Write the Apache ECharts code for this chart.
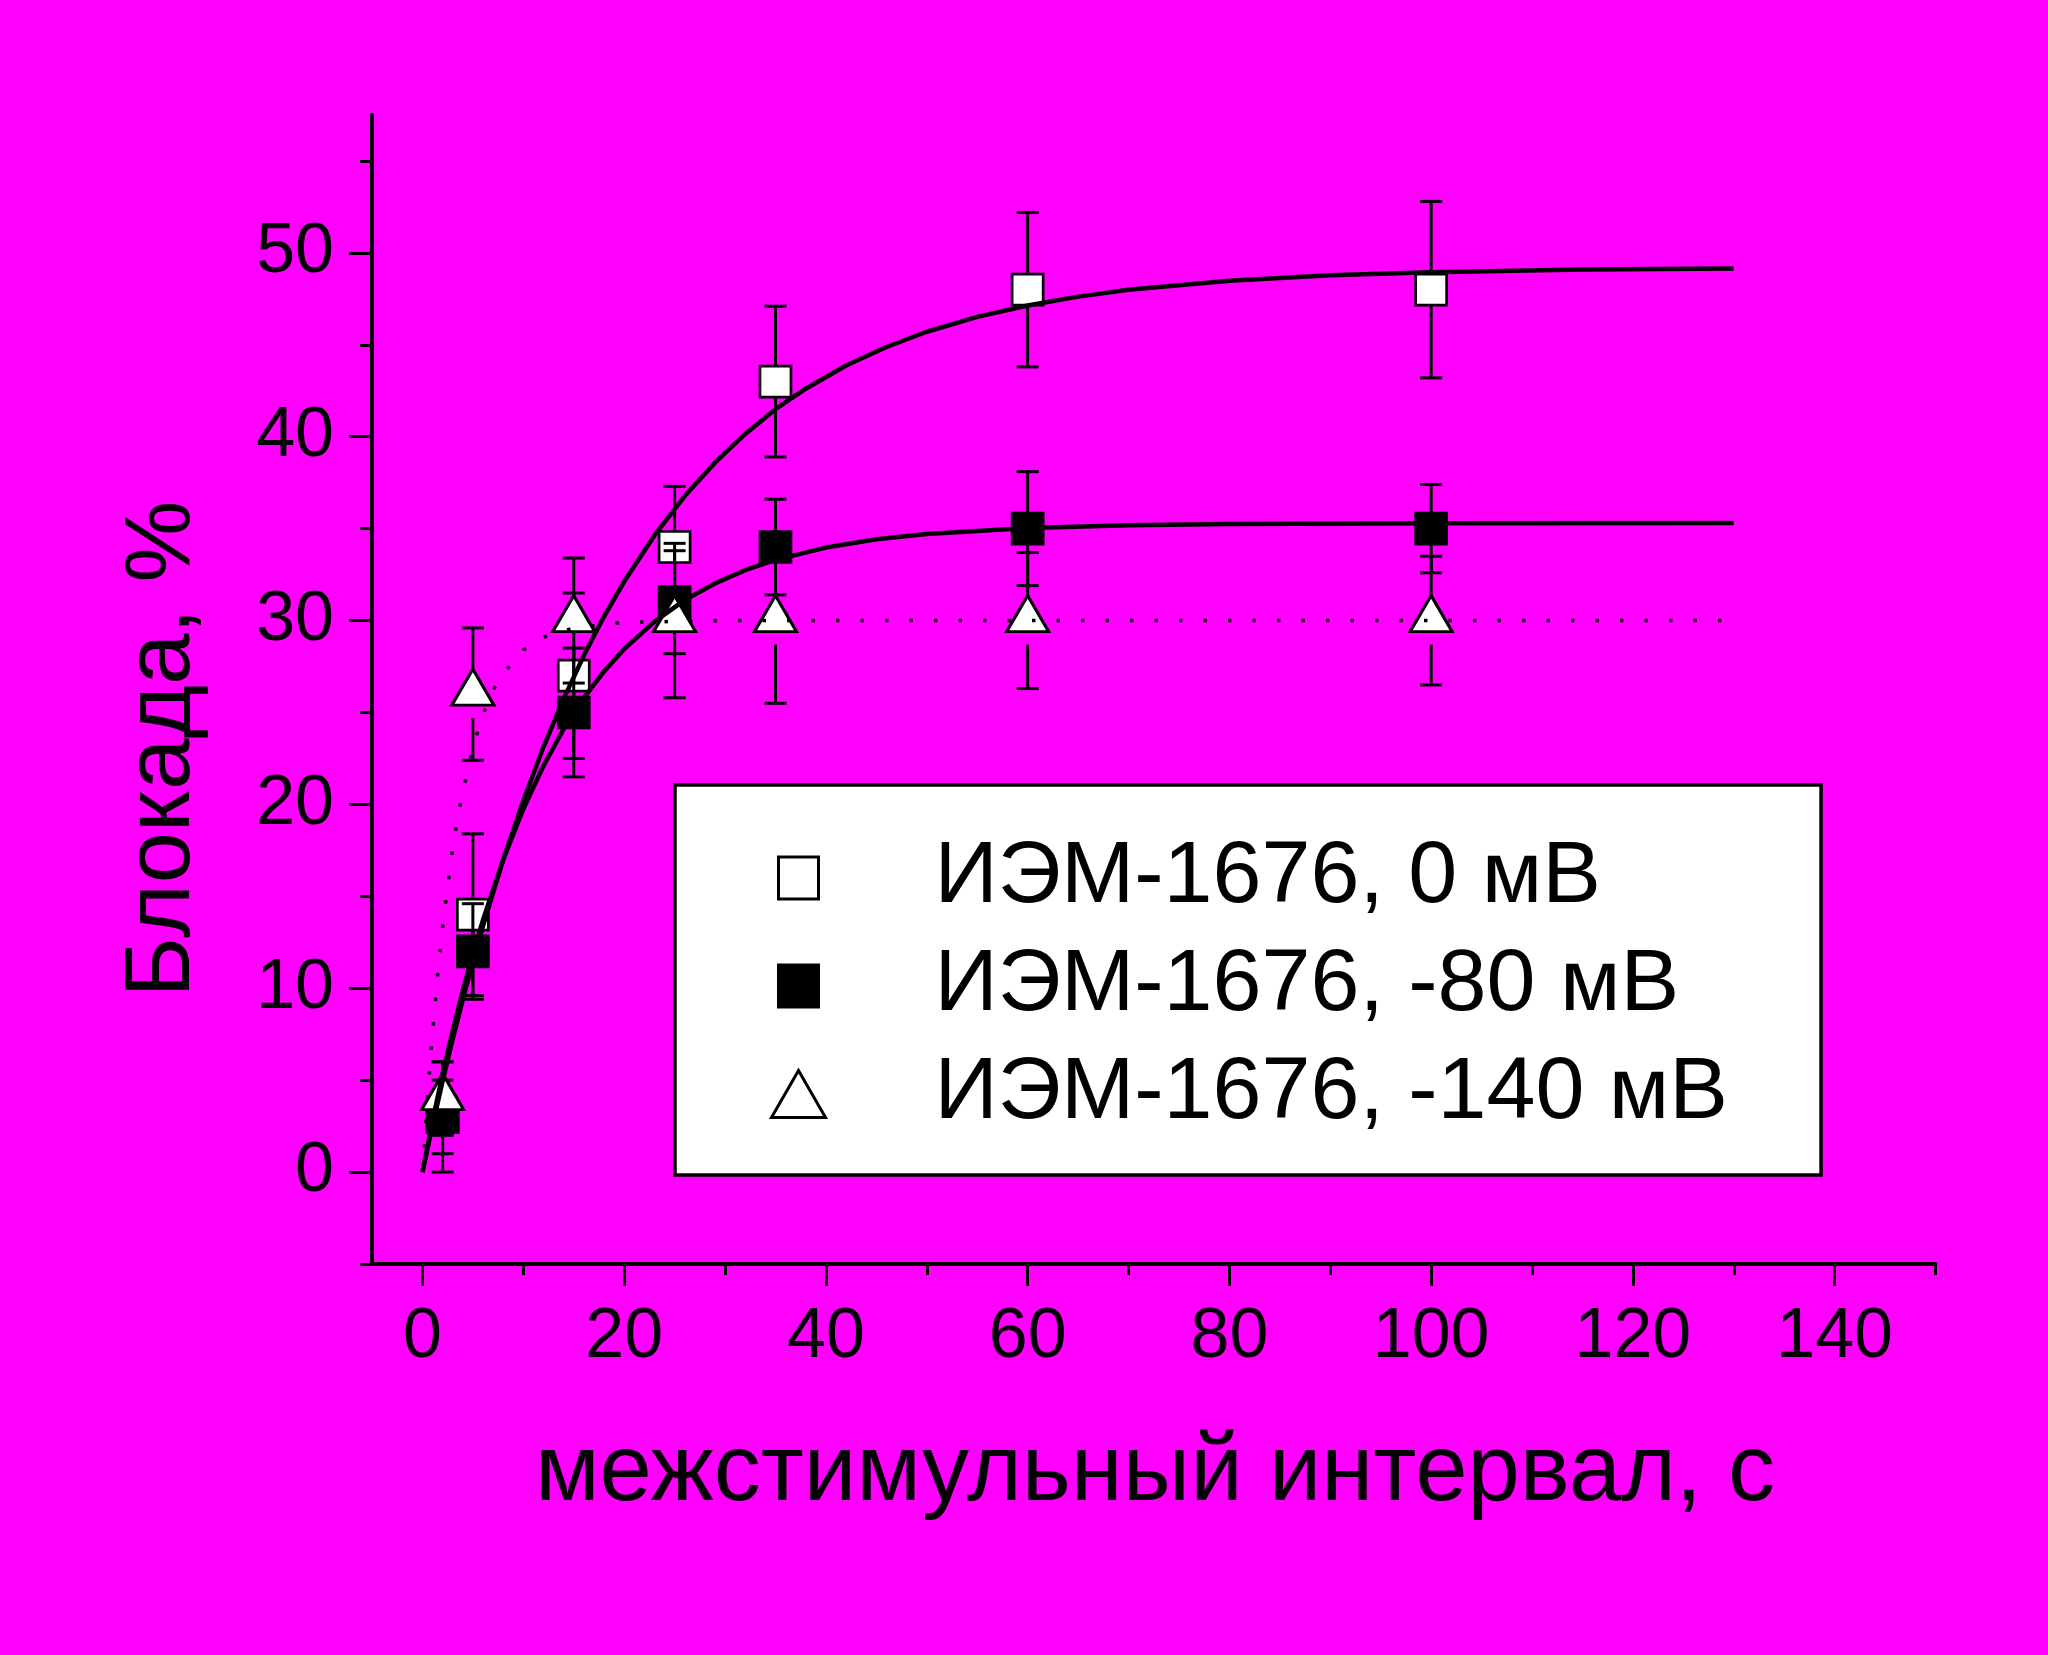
<!DOCTYPE html>
<html>
<head>
<meta charset="utf-8">
<script src="https://cdn.jsdelivr.net/npm/echarts@6/dist/echarts.min.js"></script>
<style>
html,body{margin:0;padding:0;background:#ff00ff;}
#chart{width:2048px;height:1655px;}
</style>
</head>
<body>
<div id="chart"></div>
<script>
// ---- data ----
const seriesNames = ['ИЭМ-1676, 0 мВ', 'ИЭМ-1676, -80 мВ', 'ИЭМ-1676, -140 мВ'];
const xVals = [2, 5, 15, 25, 35, 60, 100];

const y0   = [3, 14, 27, 34, 43, 48, 48];
const lo0  = [0, 9.6, 22.5, 30.7, 38.9, 43.8, 43.2];
const hi0  = [6, 18.4, 31.5, 37.3, 47.1, 52.2, 52.8];

const y80  = [3, 12, 25, 31, 34, 35, 35];
const lo80 = [1, 9.4, 21.5, 28.2, 31.4, 31.9, 32.6];
const hi80 = [5, 14.6, 28.5, 33.8, 36.6, 38.1, 37.4];

const y140  = [4, 26, 30, 30, 30, 30, 30];
const lo140 = [2, 22.4, 26.6, 25.8, 25.5, 26.3, 26.5];
const hi140 = [6, 29.6, 33.4, 34.2, 34.5, 33.7, 33.5];

// fitted curves
const fitX0 = [0, 1, 2, 3, 4, 5, 6, 8, 10, 12, 14, 16, 18, 20, 23, 26, 29, 32, 35, 38, 42, 46, 50, 55, 60, 65, 70, 80, 90, 100, 115, 130];
const fitY0 = [0, 2.53, 4.94, 7.22, 9.38, 11.44, 13.38, 16.98, 20.2, 23.12, 25.74, 28.1, 30.22, 32.12, 34.63, 36.77, 38.59, 40.15, 41.5, 42.61, 43.87, 44.88, 45.71, 46.52, 47.14, 47.62, 47.99, 48.49, 48.78, 48.95, 49.09, 49.15];
const fitX80 = [0, 1, 2, 3, 4, 5, 6, 8, 10, 12, 14, 16, 18, 20, 23, 26, 29, 32, 35, 40, 45, 50, 60, 70, 80, 100, 130];
const fitY80 = [0, 2.78, 5.34, 7.70, 9.87, 11.87, 13.71, 16.98, 19.75, 22.1, 24.1, 25.79, 27.23, 28.45, 29.94, 31.11, 32.02, 32.74, 33.3, 33.97, 34.42, 34.71, 35.04, 35.19, 35.25, 35.29, 35.3];
const fitX140 = [0, 0.5, 1, 1.5, 2, 2.5, 3, 3.5, 4, 5, 6, 7, 8, 10, 12, 15, 20, 30, 130];
const fitY140 = [0, 4.1, 7.6, 10.7, 13.3, 15.6, 17.6, 19.3, 20.7, 23.1, 24.9, 26.2, 27.1, 28.4, 29.1, 29.6, 29.9, 30, 30];

// axis ticks
const xTickLabels = [0, 20, 40, 60, 80, 100, 120, 140];
const xMinorTicks = [10, 30, 50, 70, 90, 110, 130, 150];
const yTickLabels = [0, 10, 20, 30, 40, 50];
const yMinorTicks = [-5, 5, 15, 25, 35, 45, 55];

const xTitle = 'межстимульный интервал, с';
const yTitle = 'Блокада, %';

// ---- build ----
const FONT = '"Liberation Sans", Arial, sans-serif';
function zip(xs, ys) { return xs.map((x, i) => [x, ys[i]]); }
function zipErr(xs, ys, lo, hi) { return xs.map((x, i) => [x, ys[i], lo[i], hi[i]]); }

function errRender(gap) {
  return function (params, api) {
    const x = api.value(0), y = api.value(1), lo = api.value(2), hi = api.value(3);
    const pC = api.coord([x, y]);
    const pL = api.coord([x, lo]);
    const pH = api.coord([x, hi]);
    const hw = 11;
    const st = { stroke: '#000', lineWidth: 3, fill: null };
    const ch = [
      { type: 'line', shape: { x1: pC[0], y1: pC[1], x2: pH[0], y2: pH[1] }, style: st },
      { type: 'line', shape: { x1: pH[0] - hw, y1: pH[1], x2: pH[0] + hw, y2: pH[1] }, style: st },
      { type: 'line', shape: { x1: pL[0] - hw, y1: pL[1], x2: pL[0] + hw, y2: pL[1] }, style: st }
    ];
    if (pC[1] + gap < pL[1]) {
      ch.push({ type: 'line', shape: { x1: pC[0], y1: pC[1] + gap, x2: pL[0], y2: pL[1] }, style: st });
    }
    return { type: 'group', children: ch };
  };
}

// legend icons drawn inside a 57x50 box (outer moveTo points fix the box)
const legendSquareIcon = 'path://M0 0M57 50M8.5 4L48.5 4L48.5 46L8.5 46Z';
const legendTriangleIcon = 'path://M0 0M57 50M1.5 48.5L28.5 1.5L55.5 48.5Z';

const chart = echarts.init(document.getElementById('chart'), null, { renderer: 'canvas', width: 2048, height: 1655 });

const axisLineStyle = { color: '#000', width: 4 };
const tickStyle = { color: '#000', width: 3 };

const option = {
  backgroundColor: '#ff00ff',
  animation: false,
  grid: { left: 372, top: 115, width: 1563.5, height: 1149, containLabel: false },
  xAxis: [
    {
      type: 'value', min: -5, max: 150, position: 'bottom',
      axisLine: { show: true, onZero: false, lineStyle: axisLineStyle },
      axisTick: { show: true, customValues: xTickLabels, length: 22, lineStyle: tickStyle },
      axisLabel: { show: true, customValues: xTickLabels, margin: 39, color: '#000', fontSize: 70, fontFamily: FONT },
      splitLine: { show: false }
    },
    {
      type: 'value', min: -5, max: 150, position: 'bottom',
      axisLine: { show: false, onZero: false },
      axisTick: { show: true, customValues: xMinorTicks, length: 11, lineStyle: tickStyle },
      axisLabel: { show: false },
      splitLine: { show: false }
    }
  ],
  yAxis: [
    {
      type: 'value', min: -5, max: 57.5, position: 'left',
      axisLine: { show: true, onZero: false, lineStyle: axisLineStyle },
      axisTick: { show: true, customValues: yTickLabels, length: 23, lineStyle: tickStyle },
      axisLabel: { show: true, customValues: yTickLabels, margin: 38, color: '#000', fontSize: 70, fontFamily: FONT },
      splitLine: { show: false }
    },
    {
      type: 'value', min: -5, max: 57.5, position: 'left',
      axisLine: { show: false, onZero: false },
      axisTick: { show: true, customValues: yMinorTicks, length: 12, lineStyle: tickStyle },
      axisLabel: { show: false },
      splitLine: { show: false }
    }
  ],
  legend: {
    show: true,
    orient: 'vertical',
    left: 675, top: 785,
    padding: [49, 93, 37, 93.5],
    backgroundColor: '#fff',
    borderColor: '#000',
    borderWidth: 3.5,
    borderRadius: 0,
    itemWidth: 57, itemHeight: 50,
    itemGap: 20,
    selectedMode: false,
    z: 20,
    data: [
      { name: seriesNames[0], icon: legendSquareIcon },
      { name: seriesNames[1], icon: legendSquareIcon },
      { name: seriesNames[2], icon: legendTriangleIcon }
    ],
    itemStyle: { borderWidth: 3, borderColor: '#000' },
    textStyle: { color: '#000', fontSize: 88, fontFamily: FONT, lineHeight: 88, padding: [0, 0, 0, 102.5] }
  },
  graphic: [
    {
      type: 'text', x: 164, y: 749, rotation: Math.PI / 2,
      style: { text: yTitle, fill: '#000', fontSize: 92, fontFamily: FONT, align: 'center', verticalAlign: 'middle' }
    },
    {
      type: 'text', x: 1155, y: 1474,
      style: { text: xTitle, fill: '#000', fontSize: 94, fontFamily: FONT, align: 'center', verticalAlign: 'middle' }
    }
  ],
  series: [
    { type: 'custom', name: 'err0', xAxisIndex: 0, yAxisIndex: 0, z: 2, renderItem: errRender(0),
      encode: { x: 0, y: [1, 2, 3] }, data: zipErr(xVals, y0, lo0, hi0), silent: true },
    { type: 'scatter', name: seriesNames[0], xAxisIndex: 0, yAxisIndex: 0, z: 3, symbol: 'rect', symbolSize: 31,
      itemStyle: { color: '#fff', borderColor: '#000', borderWidth: 2.7, opacity: 1 },
      emphasis: { disabled: true }, data: zip(xVals, y0) },

    { type: 'custom', name: 'err80', xAxisIndex: 0, yAxisIndex: 0, z: 4, renderItem: errRender(0),
      encode: { x: 0, y: [1, 2, 3] }, data: zipErr(xVals, y80, lo80, hi80), silent: true },
    { type: 'scatter', name: seriesNames[1], xAxisIndex: 0, yAxisIndex: 0, z: 5, symbol: 'rect', symbolSize: 31,
      itemStyle: { color: '#000', borderColor: '#000', borderWidth: 2.7, opacity: 1 },
      emphasis: { disabled: true }, data: zip(xVals, y80) },

    { type: 'custom', name: 'err140', xAxisIndex: 0, yAxisIndex: 0, z: 6, renderItem: errRender(24),
      encode: { x: 0, y: [1, 2, 3] }, data: zipErr(xVals, y140, lo140, hi140), silent: true },
    { type: 'scatter', name: seriesNames[2], xAxisIndex: 0, yAxisIndex: 0, z: 7, symbol: 'triangle', symbolSize: [42, 36],
      symbolOffset: [0, -7],
      itemStyle: { color: '#fff', borderColor: '#000', borderWidth: 3, borderJoin: 'miter', opacity: 1 },
      emphasis: { disabled: true }, data: zip(xVals, y140) },

    { type: 'line', name: 'fit0', xAxisIndex: 0, yAxisIndex: 0, z: 8, showSymbol: false, symbol: 'none',
      smooth: false, lineStyle: { color: '#000', width: 4.5, join: 'round' }, silent: true,
      data: zip(fitX0, fitY0) },
    { type: 'line', name: 'fit80', xAxisIndex: 0, yAxisIndex: 0, z: 8, showSymbol: false, symbol: 'none',
      smooth: false, lineStyle: { color: '#000', width: 4.5, join: 'round' }, silent: true,
      data: zip(fitX80, fitY80) },
    { type: 'line', name: 'fit140', xAxisIndex: 0, yAxisIndex: 0, z: 8, showSymbol: false, symbol: 'none',
      smooth: false, lineStyle: { color: '#000', width: 3.5, type: [3.5, 21] }, silent: true,
      data: zip(fitX140, fitY140) }
  ]
};
chart.setOption(option);
</script>
</body>
</html>
